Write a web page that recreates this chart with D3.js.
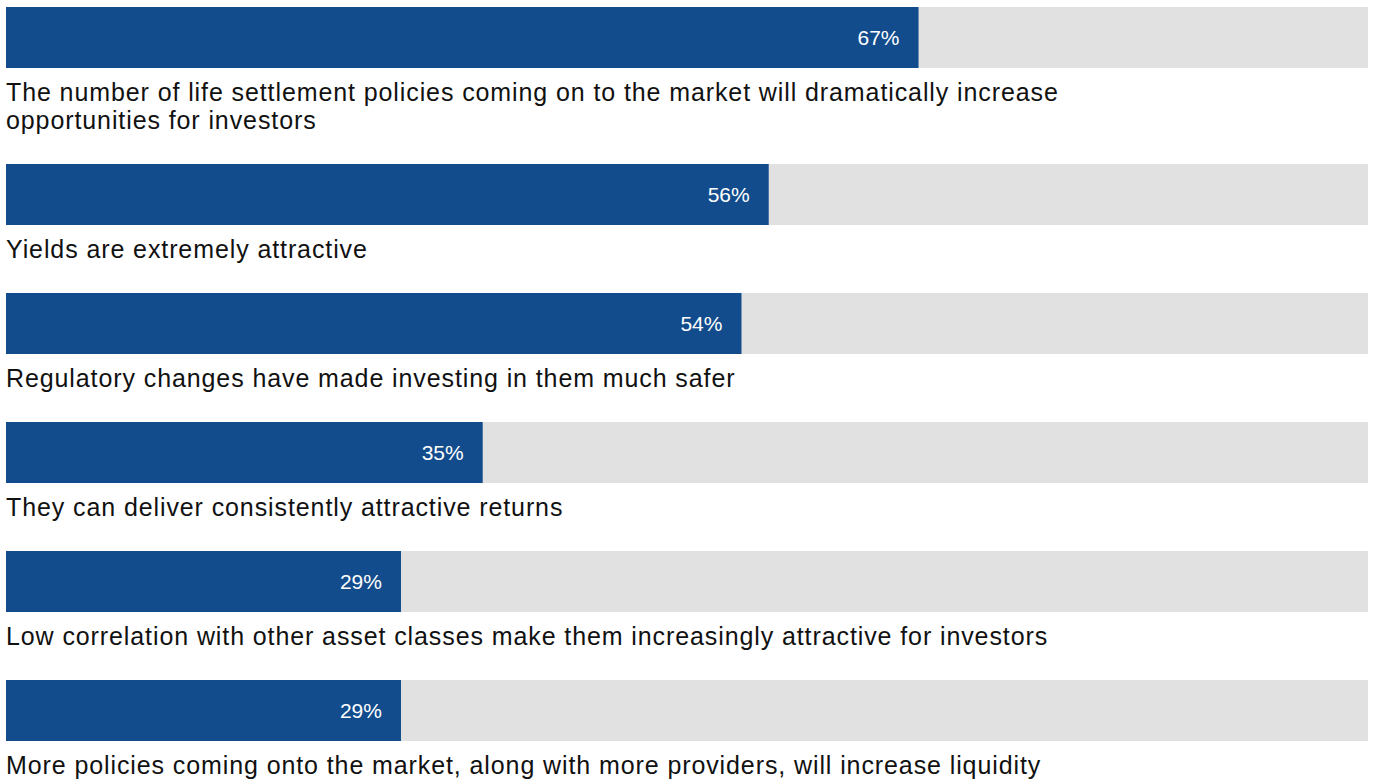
<!DOCTYPE html>
<html>
<head>
<meta charset="utf-8">
<script src="https://cdn.jsdelivr.net/npm/d3@7"></script>
<style>
  html, body { margin: 0; padding: 0; background: #ffffff; }
  svg { display: block; font-family: "Liberation Sans", Arial, Helvetica, sans-serif; }
</style>
</head>
<body>
<svg id="chart_svg" width="1376" height="780"></svg>
<script>
// statements (label lines) and share of respondents agreeing
const statements = [
  ["The number of life settlement policies coming on to the market will dramatically increase", "opportunities for investors"],
  ["Yields are extremely attractive"],
  ["Regulatory changes have made investing in them much safer"],
  ["They can deliver consistently attractive returns"],
  ["Low correlation with other asset classes make them increasingly attractive for investors"],
  ["More policies coming onto the market, along with more providers, will increase liquidity"]
];
const values = [67, 56, 54, 35, 29, 29];

const margin = { top: 7, left: 6, right: 8 };
const width = 1376;
const barHeight = 61;
const lineHeight = 28;
const labelOffset = 33;   // bar bottom -> first label baseline
const blockBase = 101;    // block height without label lines

const svg = d3.select("#chart_svg");

const xScale = d3.scaleLinear()
  .domain([0, 100])
  .range([margin.left, width - margin.right]);

// stack blocks vertically, each taking bar + its label lines
let offsets = [];
let acc = margin.top;
statements.forEach((lines) => {
  offsets.push(acc);
  acc += blockBase + lines.length * lineHeight;
});

const rows = values.map((v, i) => ({ value: v, lines: statements[i], y: offsets[i] }));

const g = svg.append("g").attr("id", "g_chart");

let row = g.selectAll(".row")
  .data(rows)
  .enter()
  .append("g")
  .attr("class", "row")
  .attr("transform", (d) => "translate(0," + d.y + ")");

// grey track
row.append("rect")
  .attr("x", xScale(0))
  .attr("y", 0)
  .attr("width", xScale(100) - xScale(0))
  .attr("height", barHeight)
  .attr("fill", "#e1e1e1");

// value bar
row.append("rect")
  .attr("x", xScale(0))
  .attr("y", 0)
  .attr("width", (d) => xScale(d.value) - xScale(0))
  .attr("height", barHeight)
  .attr("fill", "#124c8c");

// value label inside the bar
row.append("text")
  .attr("x", (d) => xScale(d.value) - 19)
  .attr("y", barHeight / 2)
  .attr("dy", "0.35em")
  .attr("text-anchor", "end")
  .attr("fill", "#ffffff")
  .attr("font-size", 21)
  .text((d) => d.value + "%");

// statement text under the bar
row.append("text")
  .attr("x", xScale(0))
  .attr("y", barHeight + labelOffset)
  .attr("fill", "#111111")
  .attr("font-size", 25)
  .attr("letter-spacing", 0.9)
  .selectAll("tspan")
  .data((d) => d.lines)
  .enter()
  .append("tspan")
  .attr("x", xScale(0))
  .attr("dy", (d, i) => (i === 0 ? 0 : lineHeight))
  .text((d) => d);
</script>
</body>
</html>
